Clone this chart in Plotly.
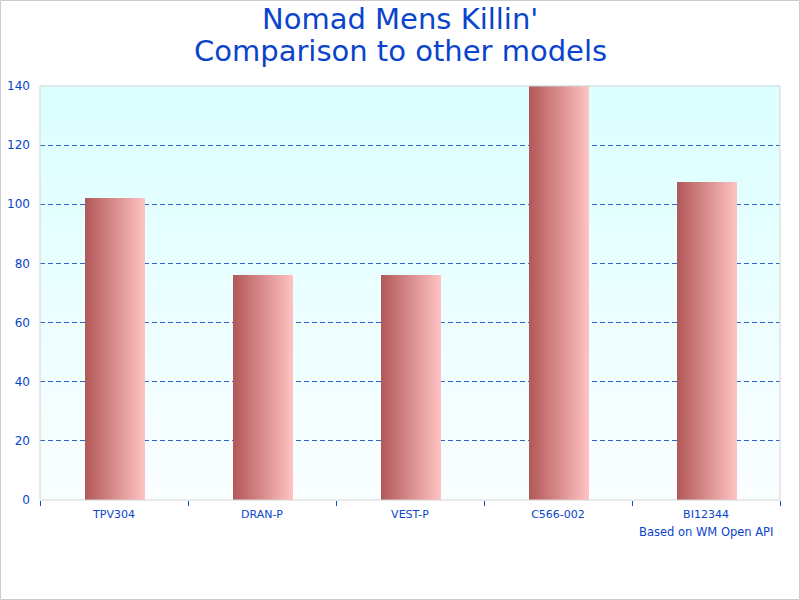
import plotly.graph_objects as go

categories = ["TPV304", "DRAN-P", "VEST-P", "C566-002", "BI12344"]
values = [102, 76, 76, 140, 107.5]
y_ticks = [0, 20, 40, 60, 80, 100, 120, 140]
title_lines = ["Nomad Mens Killin'", "Comparison to other models"]
footnote = "Based on WM Open API"

BLUE = "#0A44CC"
FONT = "DejaVu Sans"

# plot area in pixels
L, R, T, B = 40, 780, 86, 500
PW, PH = R - L, B - T

def lerp(c1, c2, t):
    return "rgb(%d,%d,%d)" % tuple(round(a + (b - a) * t) for a, b in zip(c1, c2))

def py(ypix):
    return (B - ypix) / PH

def px(xpix):
    return (xpix - L) / PW

fig = go.Figure()

# bars with horizontal gradient: built from thin slices
bar_w = 0.405
n = 40
left_c = (178, 88, 88)
right_c = (255, 193, 193)
sw = bar_w / n
shift = 0.008
for i in range(n):
    t = i / (n - 1)
    fig.add_trace(go.Bar(
        x=categories, y=values,
        width=sw * 1.15, offset=-bar_w / 2 + shift + i * sw,
        marker=dict(color=lerp(left_c, right_c, t), line=dict(width=0)),
        showlegend=False, hoverinfo="skip",
    ))

# background gradient (light cyan at top to near white at bottom)
shapes = []
nb = 60
top_c = (220, 255, 255)
bot_c = (249, 254, 255)
for i in range(nb):
    t = i / (nb - 1)
    shapes.append(dict(type="rect", xref="paper", yref="paper",
                       x0=0, x1=1, y0=1 - (i + 1) / nb, y1=1 - i / nb + 0.002,
                       fillcolor=lerp(top_c, bot_c, t), line=dict(width=0),
                       layer="below"))
# plot frame
shapes.append(dict(type="rect", xref="paper", yref="paper", x0=0, x1=1, y0=0, y1=1,
                   line=dict(color="#D4D4D4", width=1), fillcolor="rgba(0,0,0,0)",
                   layer="above"))
# outer border
shapes.append(dict(type="rect", xref="paper", yref="paper",
                   x0=px(0.5), x1=px(799.5), y0=py(599.5), y1=py(0.5),
                   line=dict(color="#CCCCCC", width=1), fillcolor="rgba(0,0,0,0)",
                   layer="above"))

annotations = [
    dict(text=title_lines[0], xref="paper", yref="paper", x=px(400),
         y=py(19), xanchor="center", yanchor="middle", showarrow=False,
         font=dict(size=29, color=BLUE, family=FONT)),
    dict(text=title_lines[1], xref="paper", yref="paper", x=px(400),
         y=py(51), xanchor="center", yanchor="middle", showarrow=False,
         font=dict(size=29, color=BLUE, family=FONT)),
    dict(text=footnote, xref="paper", yref="paper",
         x=px(775), y=py(532), xanchor="right", yanchor="middle", showarrow=False,
         font=dict(size=11.5, color=BLUE, family=FONT)),
]

fig.update_layout(
    width=800, height=600,
    margin=dict(l=L, r=800 - R, t=T, b=600 - B),
    paper_bgcolor="white", plot_bgcolor="rgba(0,0,0,0)",
    barmode="overlay", bargap=0,
    shapes=shapes,
    annotations=annotations,
    font=dict(family=FONT, color=BLUE),
)
fig.update_xaxes(
    type="category", tickson="boundaries", ticks="outside", ticklen=5,
    tickcolor="#0055CC", tickwidth=1, showgrid=False, showline=False,
    zeroline=False, tickfont=dict(size=11, color=BLUE, family=FONT),
    range=[-0.5, 4.5], automargin=False, ticklabelstandoff=6,
)
fig.update_yaxes(
    range=[0, 140], tickvals=y_ticks, showgrid=True, gridcolor="#3366CC",
    griddash="5px,3px", gridwidth=1, zeroline=False, showline=False,
    ticks="", ticklabelstandoff=9, automargin=False,
    tickfont=dict(size=12, color=BLUE, family=FONT),
)

fig.write_html("out.html")
